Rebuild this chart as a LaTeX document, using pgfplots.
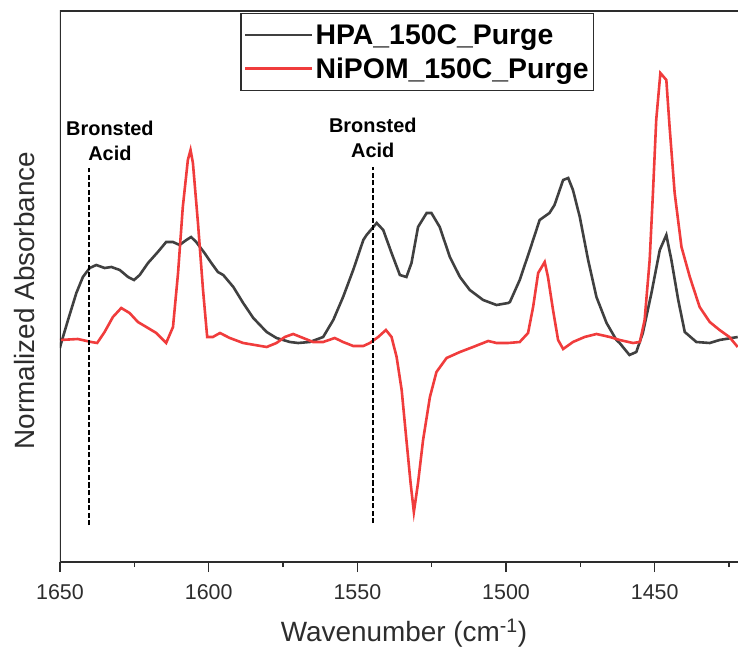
\documentclass[border=0pt]{standalone}
\usepackage{fontspec}
\setmainfont{Liberation Sans}
\usepackage{pgfplots}
\pgfplotsset{compat=1.18}
\definecolor{hpagray}{RGB}{64,64,64}
\definecolor{nipomred}{RGB}{240,60,60}
\definecolor{axgray}{RGB}{45,45,45}

\begin{document}
\begin{tikzpicture}
\begin{axis}[
  name=main,
  at={(0bp,0bp)}, anchor=south west,
  scale only axis, width=678bp, height=551bp,
  xmin=1422, xmax=1650, x dir=reverse,
  ymin=0, ymax=551,
  axis line style={draw=none},
  xtick={1450,1500,1550,1600,1650},
  minor xtick={1425,1475,1525,1575,1625},
  ytick=\empty,
  xtick pos=bottom,
  tick align=outside,
  major tick length=10bp, minor tick length=5bp,
  every tick/.style={axgray, line width=1.4bp},
  /pgf/number format/assume math mode=true,
  /pgf/number format/1000 sep={},
  xticklabel style={font=\fontsize{21.5}{24}\selectfont, text=axgray, yshift=-9bp},
  legend style={at={(0.527,0.997)}, anchor=north, draw=axgray, line width=1.3bp,
    font=\bfseries\fontsize{28.5}{30}\selectfont, inner xsep=3bp, inner ysep=9bp,
    row sep=8bp, cells={anchor=west}},
  legend cell align=left,
  legend image code/.code={\draw[#1] (0bp,0bp) -- (67bp,0bp);},
  every axis plot/.append style={line width=2.6bp},
]
\addplot[hpagray, line width=2.6bp] coordinates {
(1650.0,214) (1649.8,217) (1647.3,242) (1644.5,269) (1642.3,285) (1640.0,294)
(1637.8,297) (1635.0,294) (1632.7,295) (1629.9,292) (1627.1,285) (1625.1,282)
(1623.2,287) (1620.4,299) (1617.1,310) (1614.3,320) (1612.0,320) (1609.8,317)
(1607.5,322) (1605.9,325) (1604.2,320) (1601.4,309) (1599.1,299) (1596.9,290)
(1595.1,287) (1591.7,275) (1588.4,259) (1585.0,244) (1580.5,230) (1577.2,224)
(1572.7,220) (1569.9,219) (1566.0,220) (1561.5,225) (1558.1,242) (1554.8,265)
(1551.4,292) (1548.0,322) (1546.9,327) (1543.5,339) (1541.3,332) (1538.5,309)
(1535.7,287) (1533.5,285) (1531.8,299) (1529.6,335) (1526.7,349) (1525.1,349)
(1522.3,335) (1518.9,305) (1515.5,285) (1512.2,272) (1507.7,262) (1503.2,257)
(1499.3,259) (1498.7,260) (1495.4,282) (1492.0,312) (1488.7,342) (1485.4,349)
(1483.7,357) (1480.8,382) (1479.1,384) (1477.5,372) (1475.2,345) (1472.4,302)
(1469.6,265) (1466.2,239) (1462.9,222) (1461.8,219) (1458.5,207) (1456.2,210)
(1454.0,229) (1451.1,269) (1448.3,312) (1446.1,327) (1444.4,302) (1442.1,262)
(1439.9,230) (1436.0,220) (1431.5,219) (1428.2,222) (1422.1,225)
};
\addlegendentry{HPA\_150C\_Purge}
\addplot[nipomred, line width=2.6bp] coordinates {
(1650.0,222) (1644.0,223) (1639.5,220) (1637.5,219) (1635.0,230) (1632.2,245)
(1629.4,254) (1626.6,249) (1623.8,240) (1620.4,234) (1617.6,229) (1614.3,219)
(1612.0,235) (1610.3,289) (1608.7,355) (1607.0,402) (1606.1,412) (1605.3,399)
(1603.6,339) (1601.9,272) (1600.5,225) (1598.6,225) (1596.2,229) (1592.9,224)
(1588.4,219) (1580.5,215) (1577.2,219) (1574.4,225) (1571.6,228) (1568.2,224)
(1564.9,220) (1561.5,220) (1557.6,224) (1554.8,220) (1551.4,216) (1548.0,216)
(1545.8,219) (1543.0,225) (1540.4,232) (1538.5,225) (1536.8,205) (1535.1,172)
(1533.5,122) (1532.1,79) (1531.0,50) (1529.6,79) (1527.9,122) (1525.6,165)
(1523.4,190) (1520.0,204) (1515.5,210) (1511.1,215) (1506.0,221) (1503.2,219)
(1499.3,219) (1495.4,220) (1492.6,229) (1490.9,255) (1489.2,289) (1487.0,300)
(1485.9,285) (1484.2,252) (1482.5,222) (1480.8,213) (1477.5,220) (1473.6,225)
(1469.6,228) (1465.1,225) (1461.8,222) (1457.3,219) (1455.0,220) (1453.4,242)
(1451.7,302) (1450.6,369) (1449.5,442) (1448.1,489) (1446.1,482) (1445.0,435)
(1443.3,369) (1441.0,315) (1438.2,285) (1434.9,255) (1431.5,240) (1428.2,232)
(1424.9,225) (1422.1,215)
};
\addlegendentry{NiPOM\_150C\_Purge}
% Bronsted acid site markers
\addplot[black, line width=2.6bp, dash pattern=on 5bp off 2.5bp, forget plot]
  coordinates {(1640.2,37) (1640.2,394)};
\addplot[black, line width=2.6bp, dash pattern=on 5bp off 2.5bp, forget plot]
  coordinates {(1544.8,39) (1544.8,395)};
\node[align=center, font=\bfseries\fontsize{20}{25}\selectfont]
  at (axis cs:1633.2,421) {Bronsted\\Acid};
\node[align=center, font=\bfseries\fontsize{20}{25}\selectfont]
  at (axis cs:1544.8,424) {Bronsted\\Acid};
% frame: left, bottom and top only
\draw[axgray, line width=1.4bp] (rel axis cs:1,1) -- (rel axis cs:0,1)
  -- (rel axis cs:0,0) -- (rel axis cs:1,0);
\end{axis}
\node[rotate=90, font=\fontsize{28}{30}\selectfont, text=axgray]
  at ([xshift=-35bp, yshift=-14bp]main.west) {Normalized Absorbance};
\node[font=\fontsize{28}{30}\selectfont, text=axgray]
  at ([xshift=5bp, yshift=-71bp]main.south) {Wavenumber (cm\textsuperscript{-1})};
\pgfresetboundingbox
\path[use as bounding box] ([xshift=-60bp, yshift=-88bp]main.south west)
  rectangle ([yshift=11bp]main.north east);
\end{tikzpicture}
\end{document}
